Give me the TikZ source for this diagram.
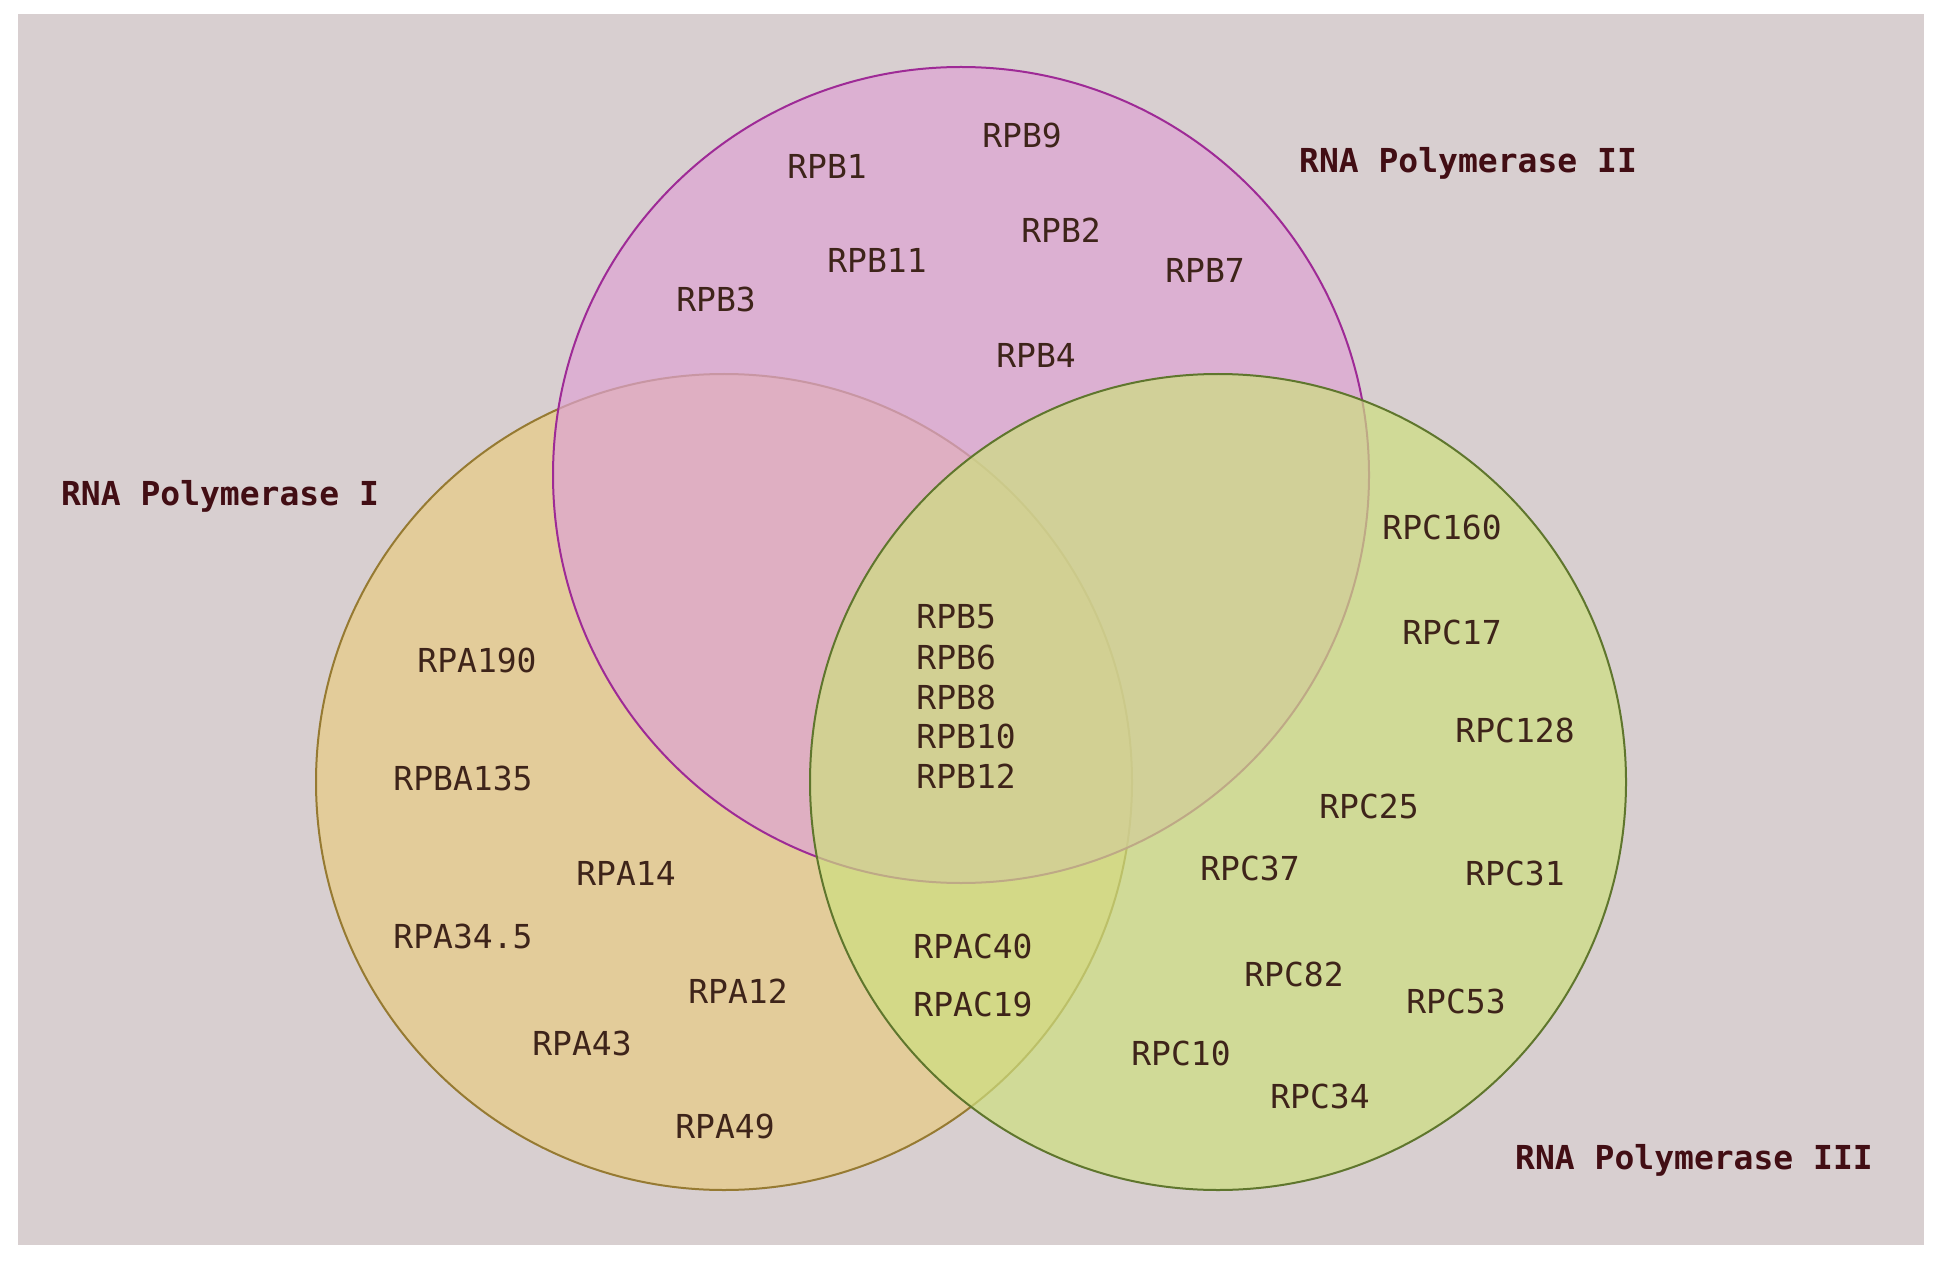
\documentclass[tikz,border=0pt]{standalone}
\usepackage{fontspec}
\setmonofont{DejaVu Sans Mono}
\usetikzlibrary{positioning}

\definecolor{bgGrey}{RGB}{216,207,208}
\definecolor{polIfill}{RGB}{233,204,132}
\definecolor{polIIfill}{RGB}{222,163,211}
\definecolor{polIIIfill}{RGB}{205,223,128}
\definecolor{polIline}{RGB}{150,122,50}
\definecolor{polIIline}{RGB}{158,42,150}
\definecolor{polIIIline}{RGB}{95,118,45}
\definecolor{subText}{RGB}{62,36,26}
\definecolor{titleText}{RGB}{66,14,20}

\tikzset{
    setcircle/.style={circle, minimum size=408pt, inner sep=0pt, line width=1pt, fill opacity=0.7},
    subunit/.style={font=\ttfamily\fontsize{16.5}{18}\selectfont, text=subText, inner sep=1pt},
    settitle/.style={font=\ttfamily\bfseries\fontsize{16.5}{18}\selectfont, text=titleText, inner sep=1pt}
}

\begin{document}
\begin{tikzpicture}[x=0.5pt,y=-0.5pt]
            \useasboundingbox (0,0) rectangle (1941,1261);
            \fill[bgGrey] (18,14) rectangle (1924,1245);
            % the three sets
            \node[setcircle, draw=polIline, fill=polIfill] (polI) at (724,782) {};
            \node[setcircle, draw=polIIline, fill=polIIfill] (polII) at (961,475) {};
            \node[setcircle, draw=polIIIline, fill=polIIIfill] (polIII) at (1218,782) {};
            % titles
            \node[settitle] (titleI) at (220,496) {RNA Polymerase I};
            \node[settitle] (titleII) at (1468,163) {RNA Polymerase II};
            \node[settitle] (titleIII) at (1694,1160) {RNA Polymerase III};
            % RNA Polymerase II only
            \node[subunit] (rpb9) at (1022,135) {RPB9};
            \node[subunit] (rpb1) at (827,166) {RPB1};
            \node[subunit] (rpb2) at (1061,230) {RPB2};
            \node[subunit] (rpb11) at (877,260) {RPB11};
            \node[subunit] (rpb7) at (1205,270) {RPB7};
            \node[subunit] (rpb3) at (716,299) {RPB3};
            \node[subunit] (rpb4) at (1036,355) {RPB4};
            % shared by all three
            \node[subunit, anchor=west] (rpb5) at (914,617) {RPB5};
            \node[subunit, anchor=west] (rpb6) at (914,657) {RPB6};
            \node[subunit, anchor=west] (rpb8) at (914,697) {RPB8};
            \node[subunit, anchor=west] (rpb10) at (914,736) {RPB10};
            \node[subunit, anchor=west] (rpb12) at (914,776) {RPB12};
            % I and III
            \node[subunit] (rpac40) at (973,946) {RPAC40};
            \node[subunit] (rpac19) at (973,1004) {RPAC19};
            % RNA Polymerase I only
            \node[subunit] (rpa190) at (477,660) {RPA190};
            \node[subunit] (rpba135) at (463,778) {RPBA135};
            \node[subunit] (rpa14) at (626,873) {RPA14};
            \node[subunit] (rpa345) at (463,936) {RPA34.5};
            \node[subunit] (rpa12) at (738,991) {RPA12};
            \node[subunit] (rpa43) at (582,1043) {RPA43};
            \node[subunit] (rpa49) at (725,1126) {RPA49};
            % RNA Polymerase III only
            \node[subunit] (rpc160) at (1442,527) {RPC160};
            \node[subunit] (rpc17) at (1452,632) {RPC17};
            \node[subunit] (rpc128) at (1515,730) {RPC128};
            \node[subunit] (rpc25) at (1369,806) {RPC25};
            \node[subunit] (rpc37) at (1250,868) {RPC37};
            \node[subunit] (rpc31) at (1515,873) {RPC31};
            \node[subunit] (rpc82) at (1294,974) {RPC82};
            \node[subunit] (rpc53) at (1456,1001) {RPC53};
            \node[subunit] (rpc10) at (1181,1053) {RPC10};
            \node[subunit] (rpc34) at (1320,1096) {RPC34};
        \end{tikzpicture}
\end{document}
